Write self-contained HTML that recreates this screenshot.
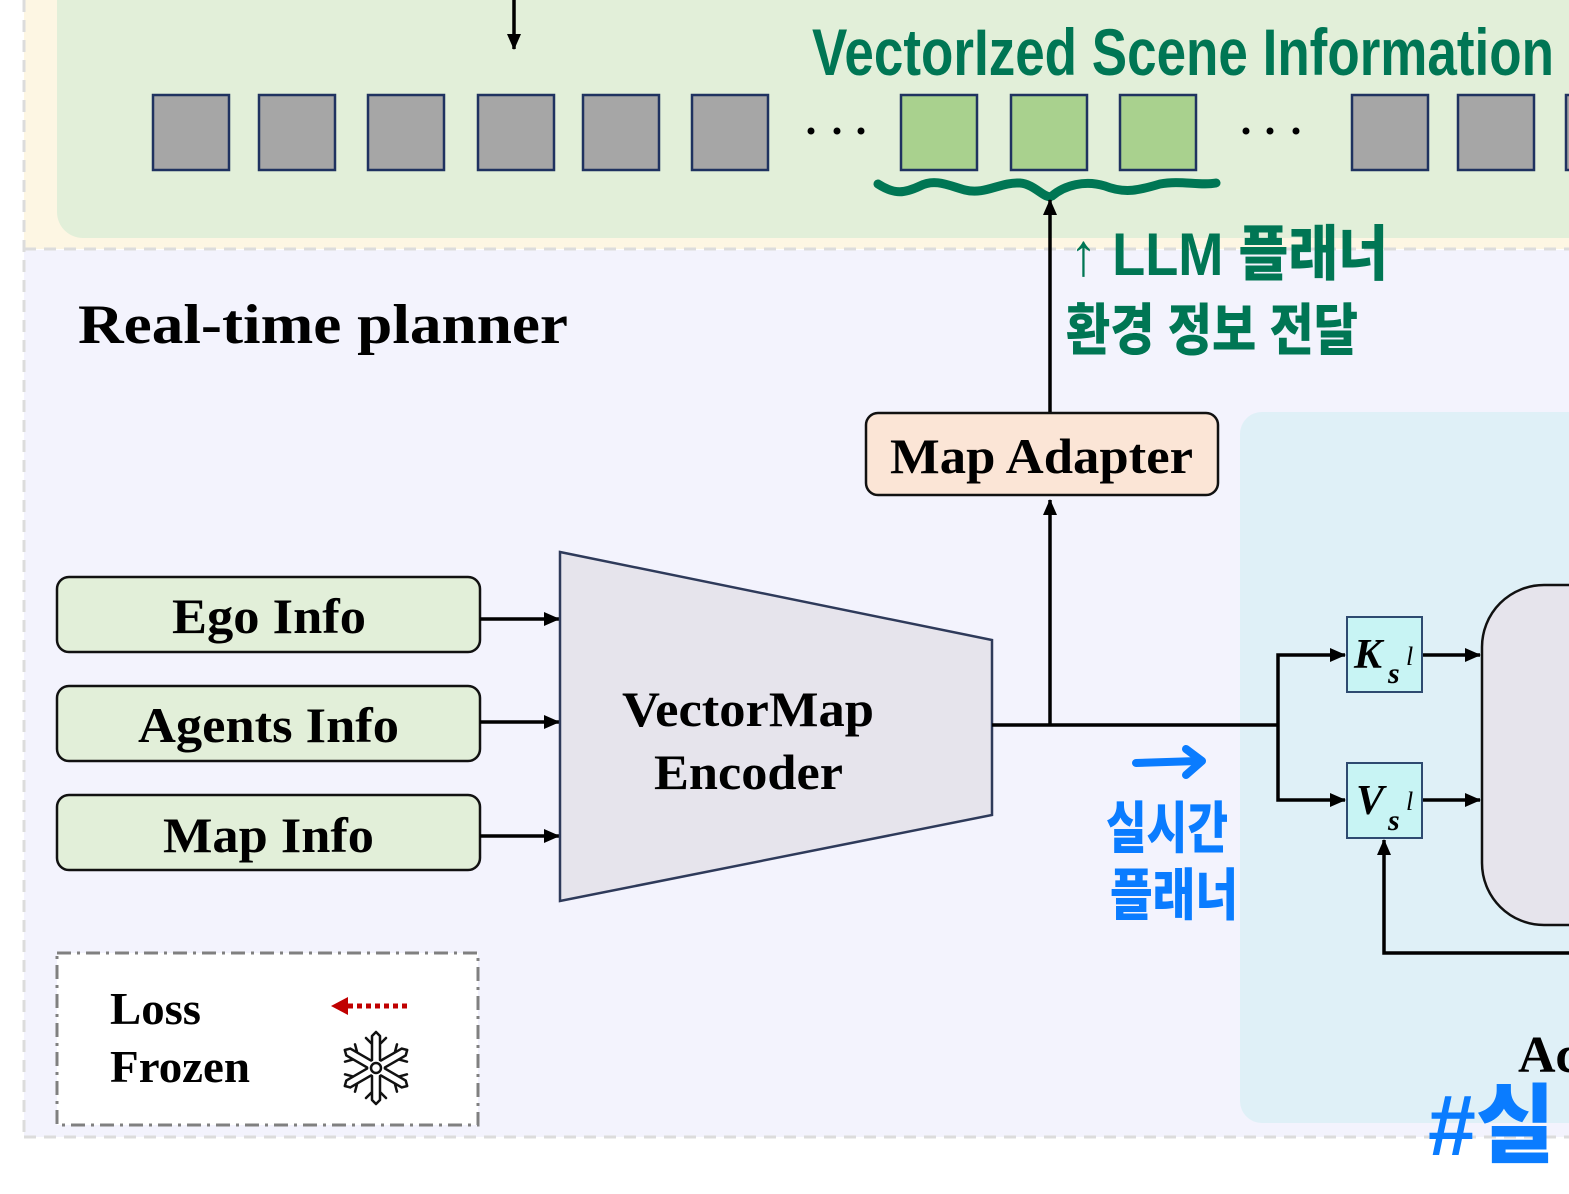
<!DOCTYPE html>
<html><head><meta charset="utf-8"><style>
html,body{margin:0;padding:0;background:#fff;width:1569px;height:1194px;overflow:hidden}
svg{display:block}
.serif{font-family:"Liberation Serif","Noto Serif CJK SC",serif;font-weight:bold}
.hand{font-family:"Liberation Sans","Noto Sans CJK KR",sans-serif;font-weight:900}
</style></head><body>
<svg width="1569" height="1194" viewBox="0 0 1569 1194" xmlns="http://www.w3.org/2000/svg">
<defs>
<marker id="ah" markerWidth="16" markerHeight="14" refX="15" refY="7" orient="auto" markerUnits="userSpaceOnUse" viewBox="0 0 16 14"><path d="M0,0 L16,7 L0,14 z" fill="#000"/></marker>
<marker id="ah2" markerWidth="16" markerHeight="14" refX="15" refY="7" orient="auto" markerUnits="userSpaceOnUse" viewBox="0 0 16 14"><path d="M0,0 L16,7 L0,14 z" fill="#000"/></marker>
</defs>
<rect x="24" y="0" width="1545" height="249" fill="#fdf6e3"/>
<rect x="57" y="-30" width="1540" height="268" rx="26" fill="#e2efd9"/>
<rect x="24" y="250" width="1545" height="887" fill="#f3f3fd"/>
<line x1="24" y1="249" x2="1569" y2="249" stroke="#dcdcdc" stroke-width="3" stroke-dasharray="12,8"/>
<line x1="24" y1="1137" x2="1569" y2="1137" stroke="#dcdcdc" stroke-width="3" stroke-dasharray="12,8"/>
<line x1="24" y1="0" x2="24" y2="1137" stroke="#dcdcdc" stroke-width="3" stroke-dasharray="12,8"/>

<line x1="514" y1="0" x2="514" y2="49" stroke="#000" stroke-width="3.5" marker-end="url(#ah2)"/>

<g stroke="#1f3260" stroke-width="2.5" fill="#a6a6a6">
<rect x="153" y="95" width="76" height="75"/><rect x="259" y="95" width="76" height="75"/>
<rect x="368" y="95" width="76" height="75"/><rect x="478" y="95" width="76" height="75"/>
<rect x="583" y="95" width="76" height="75"/><rect x="692" y="95" width="76" height="75"/>
<rect x="1352" y="95" width="76" height="75"/><rect x="1458" y="95" width="76" height="75"/>
<rect x="1566" y="95" width="76" height="75"/>
<rect x="901" y="95" width="76" height="75" fill="#a9d18e"/>
<rect x="1011" y="95" width="76" height="75" fill="#a9d18e"/>
<rect x="1120" y="95" width="76" height="75" fill="#a9d18e"/>
</g>
<g fill="#000"><circle cx="811" cy="131" r="3.5"/><circle cx="837" cy="131" r="3.5"/><circle cx="861" cy="131" r="3.5"/>
<circle cx="1246" cy="131" r="3.5"/><circle cx="1270" cy="131" r="3.5"/><circle cx="1296" cy="131" r="3.5"/></g>

<text x="812" y="75" class="hand" font-size="66" fill="#007654" textLength="742" lengthAdjust="spacingAndGlyphs">VectorIzed Scene Information</text>
<path d="M878,184 C895,195 905,193 920,186 C935,178 950,186 965,190 C985,195 1000,182 1020,183 C1035,184 1045,200 1052,196 C1065,185 1085,180 1105,186 C1125,194 1140,190 1160,184 C1180,180 1200,186 1216,183" fill="none" stroke="#007654" stroke-width="9" stroke-linecap="round"/>
<text x="1070" y="275" class="hand" font-size="60" fill="#007654" textLength="318" lengthAdjust="spacingAndGlyphs">↑ LLM 플래너</text>
<text x="1066" y="350" class="hand" font-size="56" fill="#007654" textLength="292" lengthAdjust="spacingAndGlyphs">환경 정보 전달</text>

<text x="78" y="343" class="serif" font-size="56" fill="#000" textLength="490" lengthAdjust="spacingAndGlyphs">Real-time planner</text>

<rect x="1240" y="412" width="360" height="711" rx="22" fill="#dff0f7"/>

<line x1="1050" y1="412" x2="1050" y2="200" stroke="#000" stroke-width="3.5" marker-end="url(#ah)"/>
<rect x="866" y="413" width="352" height="82" rx="12" fill="#fbe5d6" stroke="#111" stroke-width="2.5"/>
<text x="890" y="473" class="serif" font-size="50" textLength="303" lengthAdjust="spacingAndGlyphs">Map Adapter</text>
<line x1="1050" y1="725" x2="1050" y2="500" stroke="#000" stroke-width="3.5" marker-end="url(#ah)"/>

<g stroke="#111" stroke-width="2.5" fill="#e2efd9">
<rect x="57" y="577" width="423" height="75" rx="12"/>
<rect x="57" y="686" width="423" height="75" rx="12"/>
<rect x="57" y="795" width="423" height="75" rx="12"/>
</g>
<g class="serif" font-size="50">
<text x="172" y="633" textLength="194" lengthAdjust="spacingAndGlyphs">Ego Info</text>
<text x="138" y="742" textLength="261" lengthAdjust="spacingAndGlyphs">Agents Info</text>
<text x="163" y="852" textLength="211" lengthAdjust="spacingAndGlyphs">Map Info</text>
</g>
<g stroke="#000" stroke-width="3.5">
<line x1="480" y1="619" x2="559" y2="619" marker-end="url(#ah)"/>
<line x1="480" y1="722" x2="559" y2="722" marker-end="url(#ah)"/>
<line x1="480" y1="836" x2="559" y2="836" marker-end="url(#ah)"/>
</g>

<polygon points="560,552 992,640 992,815 560,901" fill="#e6e4ec" stroke="#2e3a5a" stroke-width="2.5"/>
<text x="622" y="726" class="serif" font-size="50" textLength="252" lengthAdjust="spacingAndGlyphs">VectorMap</text>
<text x="654" y="789" class="serif" font-size="50" textLength="189" lengthAdjust="spacingAndGlyphs">Encoder</text>

<g stroke="#000" stroke-width="3.5" fill="none">
<line x1="992" y1="725" x2="1278" y2="725"/>
<polyline points="1278,725 1278,655 1345,655" marker-end="url(#ah)"/>
<polyline points="1278,725 1278,800 1345,800" marker-end="url(#ah)"/>
<line x1="1422" y1="655" x2="1480" y2="655" marker-end="url(#ah)"/>
<line x1="1422" y1="800" x2="1480" y2="800" marker-end="url(#ah)"/>
<polyline points="1569,953 1384,953 1384,840" marker-end="url(#ah)"/>
</g>
<rect x="1347" y="617" width="75" height="75" fill="#c8f4f4" stroke="#2e4a70" stroke-width="2"/>
<rect x="1347" y="763" width="75" height="75" fill="#c8f4f4" stroke="#2e4a70" stroke-width="2"/>
<text x="1354" y="668" font-family="Liberation Serif,serif" font-weight="bold" font-style="italic" font-size="42">K</text>
<text x="1388" y="683" font-family="Liberation Serif,serif" font-weight="bold" font-style="italic" font-size="30">s</text>
<text x="1406" y="665" font-family="Liberation Serif,serif" font-style="italic" font-size="26">l</text>
<text x="1356" y="814" font-family="Liberation Serif,serif" font-weight="bold" font-style="italic" font-size="42">V</text>
<text x="1388" y="830" font-family="Liberation Serif,serif" font-weight="bold" font-style="italic" font-size="30">s</text>
<text x="1406" y="810" font-family="Liberation Serif,serif" font-style="italic" font-size="26">l</text>

<rect x="1482" y="585" width="200" height="340" rx="62" fill="#e6e4ec" stroke="#111" stroke-width="2.5"/>
<text x="1518" y="1072" class="serif" font-size="52">Ac</text>

<path d="M1136,763 L1198,761" stroke="#0a7cff" stroke-width="8" stroke-linecap="round"/>
<path d="M1186,749 L1202,761 L1186,775" fill="none" stroke="#0a7cff" stroke-width="8" stroke-linecap="round" stroke-linejoin="round"/>
<text x="1106" y="848" class="hand" font-size="56" fill="#0a7cff" textLength="122" lengthAdjust="spacingAndGlyphs">실시간</text>
<text x="1110" y="915" class="hand" font-size="56" fill="#0a7cff" textLength="128" lengthAdjust="spacingAndGlyphs">플래너</text>
<text x="1428" y="1155" class="hand" font-size="86" fill="#0a7cff">#실</text>

<rect x="57" y="953" width="421" height="172" fill="#fff" stroke="#808080" stroke-width="3" stroke-dasharray="14,6,3,6"/>
<text x="110" y="1024" class="serif" font-size="46" textLength="91" lengthAdjust="spacingAndGlyphs">Loss</text>
<text x="110" y="1082" class="serif" font-size="46" textLength="140" lengthAdjust="spacingAndGlyphs">Frozen</text>
<path d="M348,1006 L411,1006" stroke="#c00000" stroke-width="5" stroke-dasharray="5,4"/>
<path d="M331,1006 L348,997 L348,1015 z" fill="#c00000"/>
<g transform="translate(376,1068)" stroke="#111" stroke-width="2.5" fill="none" stroke-linecap="round" stroke-linejoin="round">
<circle r="5"/>
<g id="arm"><path d="M-4,-8 L-4,-24 L-10,-30 M4,-8 L4,-24 L10,-30 M-4,-24 L-4,-32 L0,-36 L4,-32 L4,-24"/></g>
<use href="#arm" transform="rotate(60)"/><use href="#arm" transform="rotate(120)"/><use href="#arm" transform="rotate(180)"/><use href="#arm" transform="rotate(240)"/><use href="#arm" transform="rotate(300)"/>
</g>
</svg>
</body></html>
